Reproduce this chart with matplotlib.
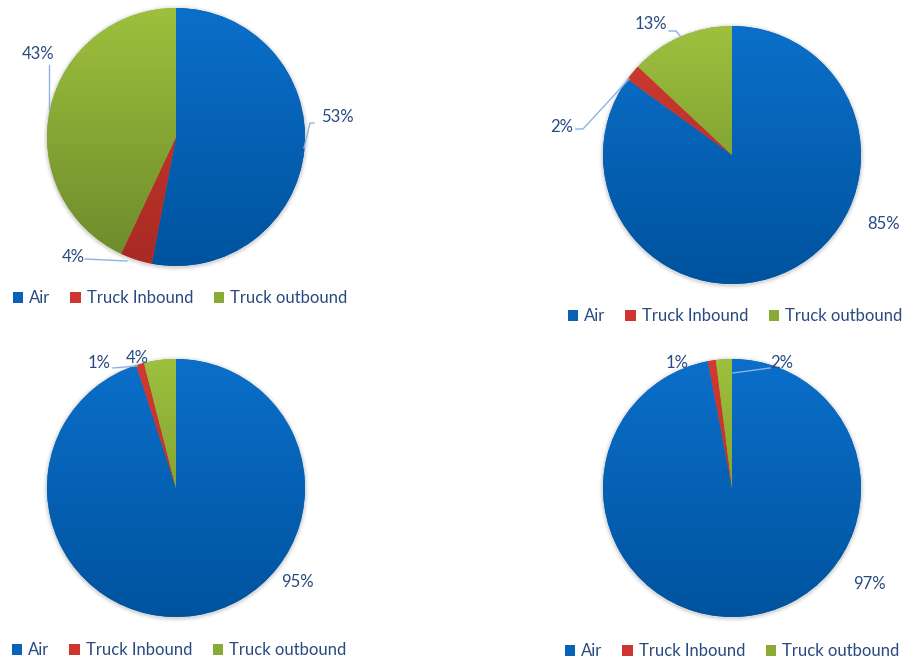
import numpy as np
import matplotlib.pyplot as plt
from matplotlib.patches import Patch, Circle
from matplotlib.colors import LinearSegmentedColormap

plt.rcParams['font.family'] = ['Lato', 'DejaVu Sans']

categories = ["Air", "Truck Inbound", "Truck outbound"]
shares_1 = [53, 4, 43]
shares_2 = [85, 2, 13]
shares_3 = [95, 1, 4]
shares_4 = [97, 1, 2]

# slice colours, light at the top of the pie, darker at the bottom
top_cols = ["#0B6FCA", "#D23A30", "#9EC03D"]
bot_cols = ["#00539E", "#A82B24", "#6C8A2B"]
mid_cols = ["#0762B8", "#CC3530", "#8AAA36"]
txt_col = "#284A80"
lead_col = "#8DB3E2"

W, H = 906, 661
R = 129

# pie centre (px), label spots (px), leader lines (px), legend centre (px)
pies = [
    dict(vals=shares_1, c=(176, 137),
         labels=[(337, 117), (73, 257), (38, 54)],
         leaders=[[(314, 123), (310, 123), (304, 148)],
                  [(85, 259), (127, 261)],
                  [(49, 65), (49, 109)]],
         leg=(180, 298)),
    dict(vals=shares_2, c=(732, 155),
         labels=[(884, 224), (562, 127), (651, 24)],
         leaders=[None,
                  [(576, 129), (583, 129), (629, 79)],
                  [(669, 31), (676, 31), (681, 37)]],
         leg=(735, 316)),
    dict(vals=shares_3, c=(176, 488),
         labels=[(297, 582), (99, 363), (137, 358)],
         leaders=[None, [(113, 368), (137, 366)], None],
         leg=(179, 650)),
    dict(vals=shares_4, c=(732, 488),
         labels=[(869, 584), (677, 363), (782, 363)],
         leaders=[None, None, [(770, 368), (733, 373)]],
         leg=(732, 651)),
]

fig = plt.figure(figsize=(W / 100, H / 100), dpi=100)
ax = fig.add_axes([0, 0, 1, 1])
ax.axis('off')

grad = np.linspace(0, 1, 256).reshape(-1, 1)

for p in pies:
    cx, cy = p['c']
    y0 = H - cy
    # soft shadow
    for k, a in [(4, 0.06), (2.5, 0.10), (1.2, 0.15)]:
        ax.add_patch(Circle((cx, y0 - 1), R + k, color='#808080', alpha=a, lw=0, zorder=0))
    wedges, _ = ax.pie(p['vals'], center=(cx, y0), radius=R, startangle=90,
                       counterclock=False, colors=mid_cols, frame=True,
                       wedgeprops=dict(linewidth=0))
    for i, w in enumerate(wedges):
        cm = LinearSegmentedColormap.from_list('g%d' % i, [top_cols[i], bot_cols[i]])
        im = ax.imshow(grad, cmap=cm, extent=(cx - R, cx + R, y0 - R, y0 + R),
                       origin='upper', aspect='auto', zorder=2)
        im.set_clip_path(w)
    for i, (v, (lx, ly)) in enumerate(zip(p['vals'], p['labels'])):
        ax.text(lx, H - ly, f"{v}%", ha='center', va='center',
                fontsize=12, color=txt_col, zorder=5)
        ld = p['leaders'][i]
        if ld:
            xs = [q[0] for q in ld]
            ys = [H - q[1] for q in ld]
            ax.plot(xs, ys, color=lead_col, lw=1, zorder=4)
    handles = [Patch(facecolor=mid_cols[i], edgecolor='none') for i in range(3)]
    fig.legend(handles, categories, loc='center',
               bbox_to_anchor=(p['leg'][0] / W, 1 - p['leg'][1] / H),
               ncol=3, frameon=False, fontsize=12, labelcolor=txt_col,
               handlelength=0.65, handleheight=0.65, handletextpad=0.35,
               columnspacing=1.2, borderpad=0, borderaxespad=0)

ax.set_xlim(0, W)
ax.set_ylim(0, H)
ax.set_aspect('auto')
fig.savefig('out.png', dpi=100, facecolor='white')
